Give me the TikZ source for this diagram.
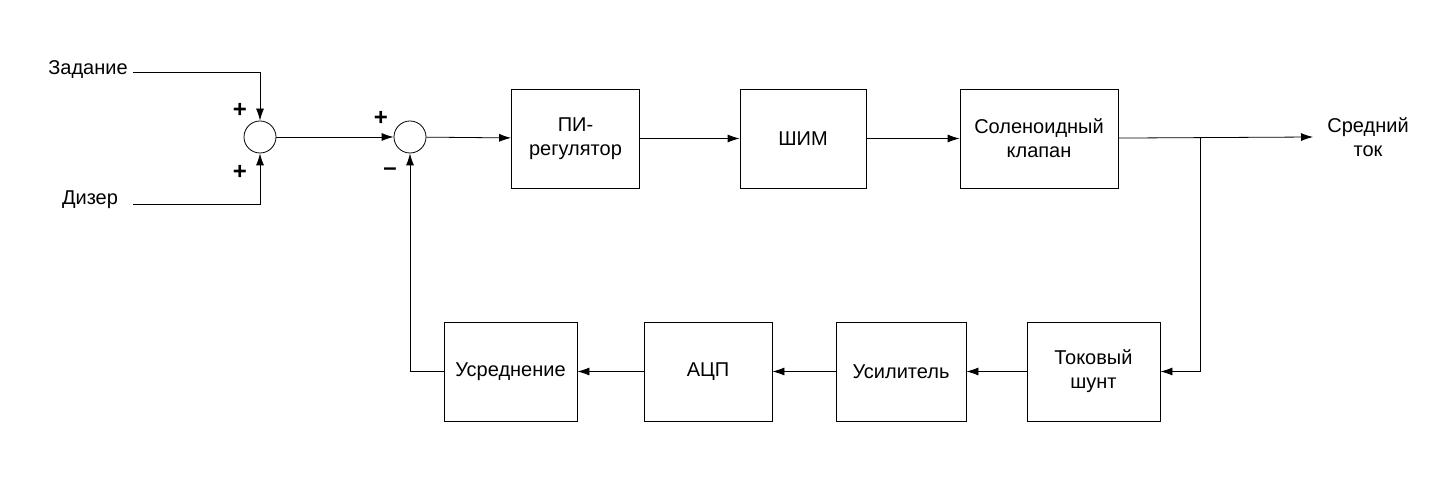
\documentclass[tikz,border=0pt]{standalone}
\usepackage{fontspec}
\setmainfont{Liberation Sans}
\usetikzlibrary{positioning,arrows.meta}
\begin{document}
\begin{tikzpicture}[x=0.5pt,y=-0.5pt,font=\fontsize{10}{12}\selectfont,
    blk/.style={draw,minimum width=64pt,minimum height=49.5pt,align=center,inner sep=1pt},
    sum/.style={draw,circle,minimum size=16pt,inner sep=0pt},
    conn/.style={-{Latex[length=6pt,width=4pt]}},
    sgn/.style={font=\fontsize{12}{12}\selectfont\bfseries}]
    \useasboundingbox (0,0) rectangle (1440,480);
    % sums
    \node[sum] (s1) at (260,137) {};
    \node[sum] (s2) at (410,137) {};
    % forward path
    \node[blk] (pi) at (575.5,138.5) {ПИ-\\регулятор};
    \node[blk,minimum width=63pt] (pwm) at (803,138.5) {ШИМ};
    \node[blk,minimum width=79pt] (sol) at (1039,138.5) {Соленоидный\\клапан};
    % feedback path
    \node[blk,minimum width=66.5pt] (shunt) at (1093.5,371.5) {Токовый\\шунт};
    \node[blk,minimum width=65pt] (amp) at (901,371.5) {Усилитель};
    \node[blk] (adc) at (708,371.5) {АЦП};
    \node[blk,minimum width=66.5pt] (avg) at (510.5,371.5) {Усреднение};
    % inputs and output
    \node (ref) at (88,70) {Задание};
    \node (dith) at (90,200) {Дизер};
    \node[align=center] (out) at (1368,137) {Средний\\ток};
    \coordinate (refA) at (133,72);
    \coordinate (dithA) at (133,204);
    \coordinate (outE) at (1313,137);
    \coordinate (br) at (1200,137);
    % connectors
    \draw[conn] (refA) -| (s1.north);
    \draw[conn] (dithA) -| (s1.south);
    \draw[conn] (s1) -- (s2);
    \draw[conn] (s2) -- (pi);
    \draw[conn] (pi) -- (pwm);
    \draw[conn] (pwm) -- (sol);
    \draw[conn] (sol) -- (outE);
    \draw[conn] (br) |- (shunt.east);
    \draw[conn] (shunt) -- (amp);
    \draw[conn] (amp) -- (adc);
    \draw[conn] (adc) -- (avg);
    \draw[conn] (avg.west) -| (s2.south);
    % signs
    \node[sgn] at (240,110) {+};
    \node[sgn] at (240,172) {+};
    \node[sgn] at (381,118) {+};
    \node[sgn] at (390,172) {--};
\end{tikzpicture}
\end{document}
